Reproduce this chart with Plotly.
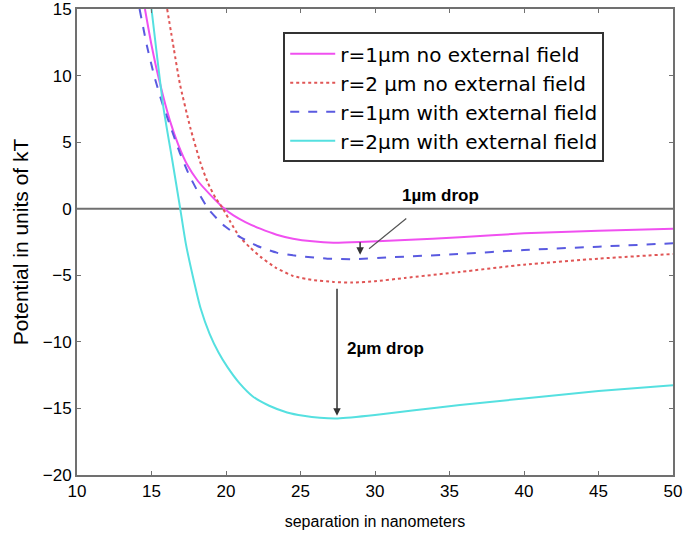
import plotly.graph_objects as go

# r=1um no external field
x_r1_nofield = [14.56, 15.0, 15.57, 16.24, 16.8, 17.4, 18.1, 18.9, 19.8, 20.5, 21.3, 22.3, 23.4, 24.5, 25.8, 27.2, 29.0, 32.0, 35.7, 40.0, 45.0, 50.0]
y_r1_nofield = [15.0, 12.3, 9.4, 6.6, 4.8, 3.3, 2.1, 1.1, 0.1, -0.5, -1.0, -1.5, -1.95, -2.25, -2.45, -2.55, -2.5, -2.35, -2.15, -1.85, -1.65, -1.5]

# r=2um no external field
x_r2_nofield = [16.05, 16.5, 16.9, 17.6, 18.3, 18.8, 19.3, 19.8, 20.3, 20.9, 21.6, 22.3, 23.3, 24.5, 25.8, 27.2, 28.5, 30.0, 32.0, 35.7, 40.0, 45.0, 50.0]
y_r2_nofield = [15.0, 12.0, 9.4, 6.1, 3.4, 1.9, 0.8, 0.0, -1.0, -2.1, -2.9, -3.6, -4.4, -5.05, -5.35, -5.5, -5.55, -5.45, -5.2, -4.75, -4.2, -3.75, -3.4]

# r=1um with external field
x_r1_field = [14.2, 14.7, 15.2, 15.7, 16.2, 16.9, 17.5, 18.05, 18.8, 19.8, 20.9, 22.1, 23.4, 24.5, 25.3, 26.8, 28.5, 31.0, 35.7, 40.0, 45.0, 50.0]
y_r1_field = [15.0, 12.2, 9.9, 8.0, 6.4, 4.2, 2.6, 1.4, 0.0, -1.2, -2.1, -2.8, -3.3, -3.5, -3.6, -3.75, -3.8, -3.65, -3.4, -3.1, -2.85, -2.6]

# r=2um with external field
x_r2_field = [15.0, 15.4, 15.8, 16.4, 16.9, 17.3, 17.8, 18.3, 18.9, 19.5, 20.1, 20.9, 21.8, 22.9, 24.1, 25.2, 26.3, 27.5, 30.0, 32.5, 35.7, 40.0, 45.0, 50.0]
y_r2_field = [15.0, 11.2, 7.6, 3.6, 0.2, -2.6, -5.2, -7.5, -9.4, -10.8, -11.9, -13.1, -14.1, -14.8, -15.3, -15.55, -15.7, -15.75, -15.5, -15.15, -14.75, -14.25, -13.7, -13.25]

names = ["r=1\u00b5m no external field", "r=2 \u00b5m no external field",
         "r=1\u00b5m with external field", "r=2\u00b5m with external field"]

fig = go.Figure()
fig.add_trace(go.Scatter(x=x_r1_nofield, y=y_r1_nofield, mode="lines", name=names[0],
                         line=dict(color="#f050f0", width=2, shape="spline", smoothing=0.5)))
fig.add_trace(go.Scatter(x=x_r2_nofield, y=y_r2_nofield, mode="lines", name=names[1],
                         line=dict(color="#e05555", width=2, dash="dot", shape="spline", smoothing=0.5)))
fig.add_trace(go.Scatter(x=x_r1_field, y=y_r1_field, mode="lines", name=names[2],
                         line=dict(color="#5a5ae0", width=2, dash="dash", shape="spline", smoothing=0.5)))
fig.add_trace(go.Scatter(x=x_r2_field, y=y_r2_field, mode="lines", name=names[3],
                         line=dict(color="#55e0e0", width=2, shape="spline", smoothing=0.5)))

# zero line
fig.add_hline(y=0, line=dict(color="#707070", width=2), layer="below")

arrow_color = "#333333"
# 1um drop: short vertical arrow
fig.add_annotation(x=29.0, y=-3.45, ax=29.0, ay=-2.4, xref="x", yref="y", axref="x", ayref="y",
                   text="", showarrow=True, arrowhead=2, arrowsize=1, arrowwidth=1.5, arrowcolor=arrow_color)
# pointer line to label
fig.add_annotation(x=29.6, y=-3.0, ax=32.2, ay=-0.65, xref="x", yref="y", axref="x", ayref="y",
                   text="", showarrow=True, arrowhead=0, arrowwidth=1.2, arrowcolor="#555555")
fig.add_annotation(x=34.4, y=1.0, xref="x", yref="y", text="<b>1\u00b5m drop</b>", showarrow=False,
                   font=dict(family="Arial", size=17, color="black"))
# 2um drop
fig.add_annotation(x=27.45, y=-15.55, ax=27.45, ay=-5.9, xref="x", yref="y", axref="x", ayref="y",
                   text="", showarrow=True, arrowhead=2, arrowsize=1, arrowwidth=1.5, arrowcolor=arrow_color)
fig.add_annotation(x=30.7, y=-10.5, xref="x", yref="y", text="<b>2\u00b5m drop</b>", showarrow=False,
                   font=dict(family="Arial", size=17, color="black"))

axis_common = dict(showline=True, linecolor="#707070", linewidth=2, mirror="ticks",
                   ticks="inside", ticklen=4, tickcolor="#707070", tickwidth=1,
                   showgrid=False, zeroline=False, automargin=False, ticklabeloverflow="allow",
                   tickfont=dict(family="Arial", size=17, color="black"))

fig.update_xaxes(range=[10, 50], dtick=5, tick0=10,
                 title=dict(text="separation in nanometers", font=dict(family="Arial", size=16, color="black"), standoff=15),
                 **axis_common)
fig.update_yaxes(range=[-20, 15], dtick=5, tick0=-20,
                 title=dict(text="Potential in units of kT", font=dict(family="Arial", size=21, color="black"), standoff=8),
                 **axis_common)

fig.update_layout(
    width=697, height=535,
    margin=dict(l=77, r=24, t=9, b=60),
    paper_bgcolor="white", plot_bgcolor="white",
    showlegend=True,
    legend=dict(x=0.346, y=0.95, xanchor="left", yanchor="top",
                bgcolor="white", bordercolor="#333333", borderwidth=2,
                font=dict(family="DejaVu Sans", size=20, color="black"),
                itemwidth=45, tracegroupgap=0),
)

fig.write_html("out.html", config={"displayModeBar": False},
               post_script="document.body.style.margin='0';")
